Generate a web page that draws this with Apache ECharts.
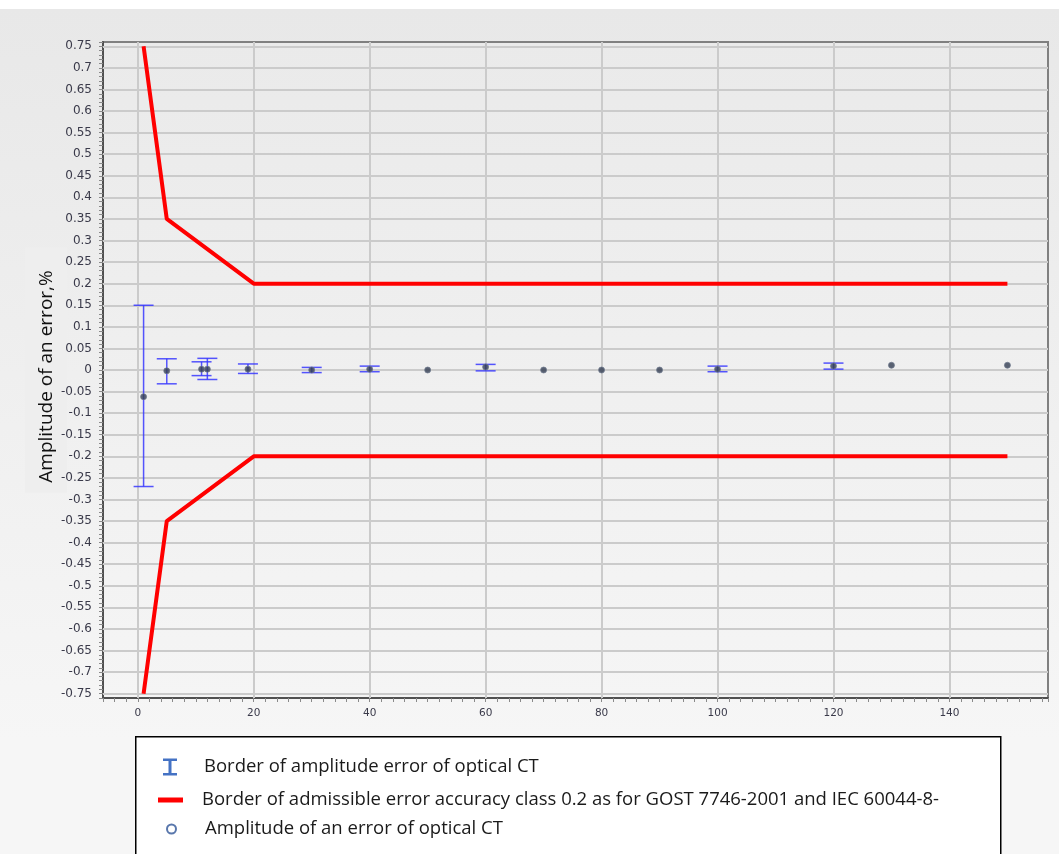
<!DOCTYPE html>
<html>
<head>
<meta charset="utf-8">
<title>Amplitude error of optical CT</title>
<script src="https://cdn.jsdelivr.net/npm/echarts@6/dist/echarts.min.js"></script>
<style>
  html, body { margin: 0; padding: 0; }
  body { background: linear-gradient(#ffffff 0px, #ffffff 9px, #e8e8e8 9px, #f6f6f6 740px); }
  #chart { width: 1059px; height: 854px; }
</style>
</head>
<body>
<div id="chart"></div>
<script>
// measured error of the optical CT (x = current, %)
var pointX = [1, 5, 11, 12, 19, 30, 40, 50, 60, 70, 80, 90, 100, 120, 130, 150]
var pointY = [-0.062, -0.002, 0.002, 0.002, 0.002, 0.0, 0.002, 0.0, 0.007, 0.0, 0.0, 0.0, 0.002, 0.009, 0.011, 0.011]

// error bars, only where they were measured
var barX = [1, 5, 11, 12, 19, 30, 40, 60, 100, 120]
var barLow = [-0.27, -0.032, -0.013, -0.022, -0.008, -0.006, -0.004, -0.002, -0.004, 0.002]
var barHigh = [0.15, 0.026, 0.019, 0.027, 0.014, 0.006, 0.009, 0.013, 0.009, 0.016]

// admissible error, class 0.2
var limitX = [1, 5, 20, 150]
var limitUpper = [0.75, 0.35, 0.2, 0.2]
var limitLower = [-0.75, -0.35, -0.2, -0.2]

// grid lines
var xGridTicks = [0, 20, 40, 60, 80, 100, 120, 140]
var yGridTicks = [-0.75, -0.7, -0.65, -0.6, -0.55, -0.5, -0.45, -0.4, -0.35, -0.3, -0.25, -0.2, -0.15, -0.1, -0.05,
  0, 0.05, 0.1, 0.15, 0.2, 0.25, 0.3, 0.35, 0.4, 0.45, 0.5, 0.55, 0.6, 0.65, 0.7, 0.75]

var names = [
  'Border of amplitude error of optical CT',
  'Border of admissible error accuracy class 0.2 as for GOST 7746-2001 and IEC 60044-8-',
  'Amplitude of an error of optical CT'
]
var yName = 'Amplitude of an error,%'

var tickColor = '#3a3a4a'
var tickFamily = 'DejaVu Sans'

function legendText(gap) {
  return { color: '#1a1a1a', fontSize: 18.5, fontFamily: 'Open Sans', lineHeight: 20, padding: [0, 0, 0, gap] }
}

function renderBar(params, api) {
  var x = api.value(0)
  var lo = api.coord([x, api.value(1)])
  var hi = api.coord([x, api.value(2)])
  var half = 10
  var style = { stroke: 'rgba(55,55,255,0.85)', lineWidth: 1.5, fill: null }
  return {
    type: 'group',
    children: [
      { type: 'line', shape: { x1: hi[0], y1: hi[1], x2: lo[0], y2: lo[1] }, style: style },
      { type: 'line', shape: { x1: hi[0] - half, y1: hi[1], x2: hi[0] + half, y2: hi[1] }, style: style },
      { type: 'line', shape: { x1: lo[0] - half, y1: lo[1], x2: lo[0] + half, y2: lo[1] }, style: style }
    ]
  }
}

var chart = echarts.init(document.getElementById('chart'), null, { renderer: 'canvas' })

var option = {
  animation: false,
  backgroundColor: 'transparent',
  grid: {
    left: 103,
    right: 11,
    top: 42,
    bottom: 156,
    show: true,
    borderColor: '#808080',
    borderWidth: 2,
    backgroundColor: new echarts.graphic.LinearGradient(0, 0, 0, 1, [
      { offset: 0, color: '#eaeaea' },
      { offset: 1, color: '#f5f5f5' }
    ])
  },
  xAxis: {
    type: 'value',
    min: -6,
    max: 157,
    interval: 2,
    axisLine: { onZero: false, lineStyle: { color: '#505050', width: 2 } },
    axisTick: { length: 4, lineStyle: { color: '#8a8a8a' } },
    axisLabel: {
      margin: 10,
      color: tickColor,
      fontSize: 10.5,
      fontFamily: tickFamily,
      formatter: function(v) {
        return Math.round(v) % 20 === 0 ? String(Math.round(v)) : ''
      }
    },
    splitLine: { show: false }
  },
  yAxis: {
    type: 'value',
    min: -0.76,
    max: 0.76,
    interval: 0.01,
    name: yName,
    nameLocation: 'middle',
    nameGap: 36,
    nameMoveOverlap: false,
    nameTextStyle: {
      fontFamily: 'Open Sans',
      fontSize: 19,
      color: '#111',
      backgroundColor: '#eeeeee',
      padding: [12, 23, 11, 10]
    },
    axisLine: { onZero: false, lineStyle: { color: '#505050', width: 2 } },
    axisTick: { length: 4, lineStyle: { color: '#8a8a8a' } },
    axisLabel: {
      margin: 11,
      color: tickColor,
      fontSize: 12,
      fontFamily: tickFamily,
      formatter: function(v) {
        var k = Math.round(v * 100)
        return k % 5 === 0 ? String(k / 100) : ''
      }
    },
    splitLine: { show: false }
  },
  graphic: [{
    type: 'rect',
    left: 135,
    top: 736,
    z: 0,
    shape: { width: 865, height: 130 },
    style: { fill: '#ffffff', stroke: '#000000', lineWidth: 1.5 }
  }],
  legend: [
    {
      left: 163, top: 757, padding: 0, itemWidth: 14, itemHeight: 17,
      textStyle: legendText(22),
      data: [{ name: names[0], icon: 'path://M0,0h14v2.5h-5.5v12h5.5v2.5h-14v-2.5h5.5v-12h-5.5z', itemStyle: { color: '#4472c4' } }]
    },
    {
      left: 158, top: 790, padding: 0, itemWidth: 25, itemHeight: 5,
      textStyle: legendText(14),
      data: [{ name: names[1], icon: 'rect', itemStyle: { color: '#ff0000' } }]
    },
    {
      left: 166, top: 819, padding: 0, itemWidth: 9, itemHeight: 9,
      textStyle: legendText(24),
      data: [{ name: names[2], icon: 'circle', itemStyle: { color: '#ffffff', borderColor: '#2f5597', borderWidth: 2 } }]
    }
  ],
  series: [
    {
      // grid lines
      type: 'line',
      name: 'grid',
      data: [],
      silent: true,
      z: 1,
      markLine: {
        z: 1,
        silent: true,
        symbol: ['none', 'none'],
        label: { show: false },
        lineStyle: { type: 'solid', color: '#cbcbcb', width: 2 },
        data: xGridTicks.map(function(v) { return { xAxis: v } })
          .concat(yGridTicks.map(function(v) { return { yAxis: v } }))
      }
    },
    {
      type: 'line',
      name: names[1],
      z: 3,
      showSymbol: false,
      itemStyle: { color: '#ff0000' },
      lineStyle: { color: '#ff0000', width: 4 },
      data: limitX.map(function(x, i) { return [x, limitUpper[i]] })
    },
    {
      type: 'line',
      name: names[1],
      z: 3,
      showSymbol: false,
      itemStyle: { color: '#ff0000' },
      lineStyle: { color: '#ff0000', width: 4 },
      data: limitX.map(function(x, i) { return [x, limitLower[i]] })
    },
    {
      type: 'custom',
      name: names[0],
      z: 4,
      itemStyle: { color: '#4472c4' },
      renderItem: renderBar,
      encode: { x: 0, y: [1, 2] },
      data: barX.map(function(x, i) { return [x, barLow[i], barHigh[i]] })
    },
    {
      type: 'scatter',
      name: names[2],
      z: 5,
      symbol: 'circle',
      symbolSize: 6,
      itemStyle: { color: '#333d52', borderColor: 'rgba(110,120,140,0.9)', borderWidth: 1 },
      data: pointX.map(function(x, i) { return [x, pointY[i]] })
    }
  ]
}

chart.setOption(option)
</script>
</body>
</html>
